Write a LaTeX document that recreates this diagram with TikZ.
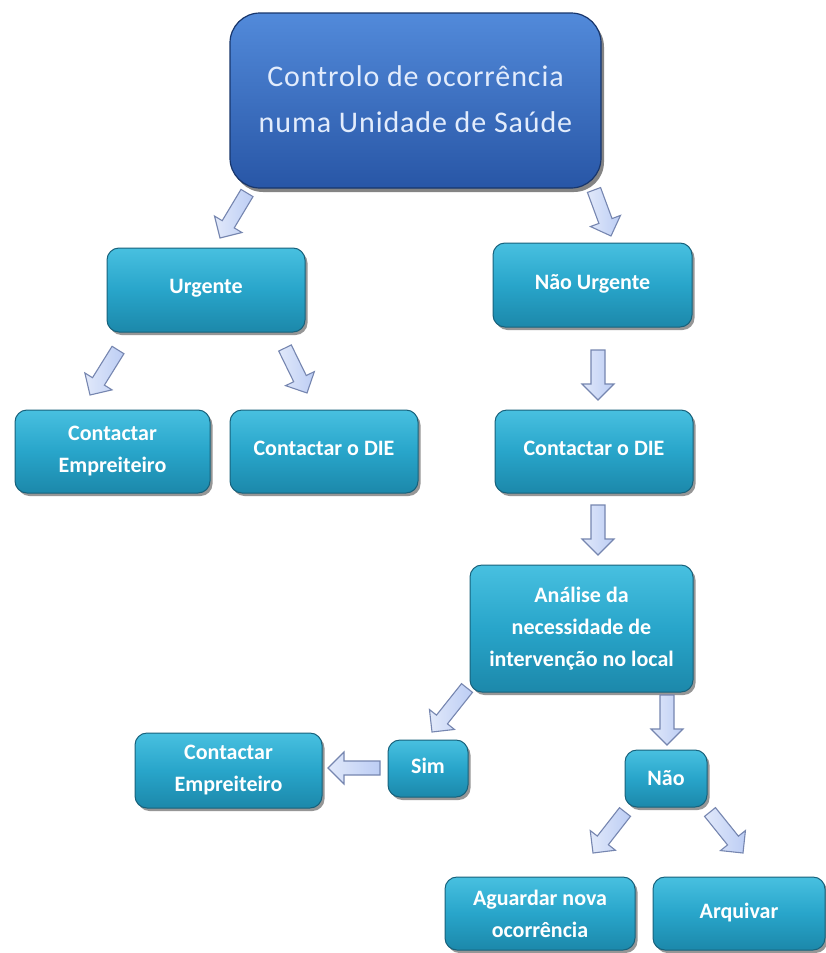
\documentclass[tikz,border=0pt]{standalone}
\usepackage{fontspec}
\setmainfont{Carlito}
\newfontfamily\titlefont[LetterSpace=3]{Carlito}
\usetikzlibrary{calc,shadows}

\definecolor{arrowblue}{RGB}{188,205,244}
\definecolor{arrowline}{RGB}{118,134,176}
\definecolor{boxtop}{RGB}{72,192,224}
\definecolor{boxmid}{RGB}{40,165,202}
\definecolor{boxbot}{RGB}{28,136,170}
\definecolor{boxline}{RGB}{24,98,124}
\definecolor{titletop}{RGB}{82,138,218}
\definecolor{titlebot}{RGB}{40,86,166}
\definecolor{titleline}{RGB}{24,54,108}
\definecolor{titletext}{RGB}{226,236,252}

\tikzset{
  stepbox/.style={
    draw=boxline, line width=1pt, rounded corners=12pt,
    top color=boxtop, bottom color=boxbot, middle color=boxmid,
    drop shadow={shadow xshift=2.5pt, shadow yshift=-3pt, opacity=0.55, fill=black!75},
    text=white, align=center, inner sep=0pt,
    font=\fontsize{22}{32}\selectfont\bfseries},
  titlebox/.style={
    draw=titleline, line width=1.2pt, rounded corners=30pt,
    top color=titletop, bottom color=titlebot,
    drop shadow={shadow xshift=3pt, shadow yshift=-4pt, opacity=0.6, fill=black!80},
    text=titletext, align=center, inner sep=0pt,
    font=\titlefont\fontsize{30}{46}\selectfont},
  arrowbody/.style={draw=arrowline, line width=1.1pt, line join=miter,
    left color=arrowblue!45!white, right color=arrowblue}
}

% block arrow from one named coordinate to another
\newcommand{\blockarrow}[2]{%
  \coordinate (ah) at ($(#2)!16pt!(#1)$);
  \path[arrowbody]
    ($(#1)!7pt!90:(#2)$) -- ($(ah)!7pt!90:(#2)$) -- ($(ah)!16pt!90:(#2)$)
    -- (#2) -- ($(ah)!16pt!-90:(#2)$) -- ($(ah)!7pt!-90:(#2)$)
    -- ($(#1)!7pt!-90:(#2)$) -- cycle;
}

\begin{document}
\begin{tikzpicture}[x=1pt,y=-1pt]
\useasboundingbox[fill=white] (0,0) rectangle (826,953);

% boxes
\node[titlebox, minimum width=371pt, minimum height=175pt] (title) at (415.5,100.5)
  {\raisebox{5pt}{\begin{tabular}{@{}c@{}}Controlo de ocorrência\\numa Unidade de Saúde\end{tabular}}};

\node[stepbox, minimum width=198pt, minimum height=84pt] (urg) at (206,290) {\raisebox{7pt}{Urgente}};
\node[stepbox, minimum width=199pt, minimum height=84pt] (nurg) at (592.5,285) {\raisebox{7pt}{Não Urgente}};

\node[stepbox, minimum width=195pt, minimum height=83pt] (emp1) at (112.5,451.5) {Contactar\\Empreiteiro};
\node[stepbox, minimum width=188pt, minimum height=83pt] (die1) at (324,451.5) {\raisebox{6pt}{Contactar o DIE}};
\node[stepbox, minimum width=198pt, minimum height=83pt] (die2) at (594,451.5) {\raisebox{6pt}{Contactar o DIE}};

\node[stepbox, minimum width=223pt, minimum height=127pt] (anal) at (581.5,628.5)
  {Análise da\\necessidade de\\intervenção no local};

\node[stepbox, minimum width=80pt, minimum height=57pt] (sim) at (428,768.5) {\raisebox{5pt}{Sim}};
\node[stepbox, minimum width=187pt, minimum height=75pt] (emp2) at (228.5,770.5) {Contactar\\Empreiteiro};
\node[stepbox, minimum width=82pt, minimum height=57pt] (nao) at (666,778.5) {Não};

\node[stepbox, minimum width=190pt, minimum height=73pt] (agu) at (540,913.5) {Aguardar nova\\ocorrência};
\node[stepbox, minimum width=172pt, minimum height=73pt] (arq) at (739,913.5) {\raisebox{5pt}{Arquivar}};

% arrow end points
\coordinate (t1) at (247,193);  \coordinate (h1) at (220,238);
\coordinate (t2) at (594,190);  \coordinate (h2) at (611,236);
\coordinate (t3) at (118,350);  \coordinate (h3) at (90,395);
\coordinate (t4) at (285,348);  \coordinate (h4) at (307,393);
\coordinate (t5) at (598,350);  \coordinate (h5) at (598,400);
\coordinate (t6) at (598,505);  \coordinate (h6) at (598,555);
\coordinate (t7) at (467,688);  \coordinate (h7) at (432,732);
\coordinate (t8) at (380,768);  \coordinate (h8) at (328,768);
\coordinate (t9) at (667,695);  \coordinate (h9) at (667,745);
\coordinate (t10) at (625,812); \coordinate (h10) at (593,853);
\coordinate (t11) at (710,812); \coordinate (h11) at (743,853);

% arrows
\blockarrow{t1}{h1}
\blockarrow{t2}{h2}
\blockarrow{t3}{h3}
\blockarrow{t4}{h4}
\blockarrow{t5}{h5}
\blockarrow{t6}{h6}
\blockarrow{t7}{h7}
\blockarrow{t8}{h8}
\blockarrow{t9}{h9}
\blockarrow{t10}{h10}
\blockarrow{t11}{h11}
\end{tikzpicture}
\end{document}
